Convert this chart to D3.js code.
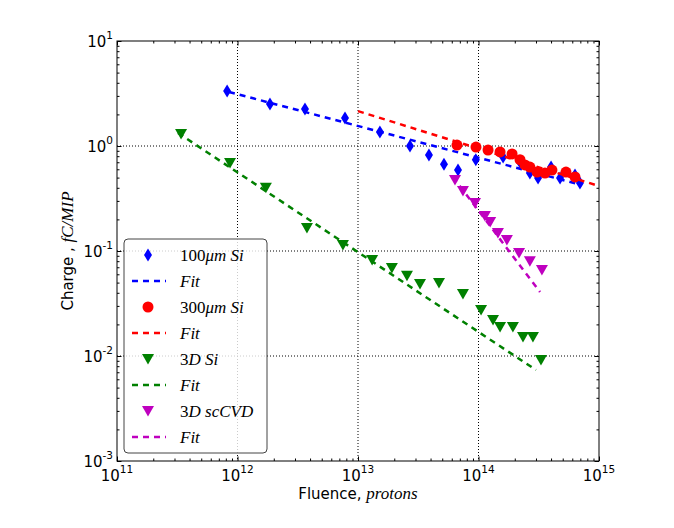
<!DOCTYPE html>
<html>
<head>
<meta charset="utf-8">
<script src="https://cdn.jsdelivr.net/npm/d3@7"></script>
<style>
  body { margin: 0; background: #fff; }
</style>
</head>
<body>
<svg id="chart" width="674" height="528"></svg>
<script>
// 100um Si
const si100Fluence = [8.2e11, 1.86e12, 3.63e12, 7.8e12, 1.52e13, 2.70e13, 3.88e13, 5.17e13, 6.76e13, 9.5e13,
    1.6e14, 2.21e14, 2.67e14, 3.12e14, 4.0e14, 4.75e14, 6.32e14, 6.95e14];
const si100Charge = [3.34, 2.51, 2.25, 1.85, 1.36, 1.0, 0.82, 0.67, 0.59, 0.74,
    0.785, 0.70, 0.553, 0.496, 0.63, 0.496, 0.53, 0.445];
const si100FitFluence = [8.5e11, 7.2e14];
const si100FitCharge = [3.27, 0.425];

// 300um Si
const si300Fluence = [6.63e13, 9.53e13, 1.2e14, 1.51e14, 1.9e14, 2.21e14, 2.43e14, 2.67e14, 3.06e14, 3.56e14,
    4.07e14, 5.32e14, 6.32e14];
const si300Charge = [1.02, 0.978, 0.916, 0.877, 0.84, 0.74, 0.66, 0.63, 0.565, 0.553,
    0.59, 0.565, 0.507];
const si300FitFluence = [1e13, 1e15];
const si300FitCharge = [2.15, 0.416];

// 3D Si
const si3dFluence = [3.40e11, 8.67e11, 1.72e12, 3.77e12, 7.5e12, 1.31e13, 1.91e13, 2.55e13, 3.27e13, 4.70e13,
    7.43e13, 1.05e14, 1.32e14, 1.51e14, 1.93e14, 2.34e14, 2.83e14, 3.30e14];
const si3dCharge = [1.30, 0.69, 0.40, 0.166, 0.114, 0.082, 0.069, 0.058, 0.0485, 0.0496,
    0.039, 0.0274, 0.022, 0.0189, 0.0189, 0.0152, 0.0152, 0.00916];
const si3dFitFluence = [3.21e11, 3.0e14];
const si3dFitCharge = [1.33, 0.00736];

// 3D scCVD
const cvdFluence = [6.38e13, 7.43e13, 9.35e13, 1.13e14, 1.25e14, 1.45e14, 1.72e14, 2.17e14, 2.67e14, 3.36e14];
const cvdCharge = [0.474, 0.373, 0.286, 0.215, 0.189, 0.148, 0.127, 0.0957, 0.080, 0.066];
const cvdFitFluence = [6.14e13, 3.24e14];
const cvdFitCharge = [0.507, 0.0407];

const xMajor = [1e11, 1e12, 1e13, 1e14, 1e15];
const xExponents = ["11", "12", "13", "14", "15"];
const yMajor = [1e-3, 1e-2, 1e-1, 1e0, 1e1];
const yExponents = ["-3", "-2", "-1", "0", "1"];

const svg = d3.select("#chart");
const width = +svg.attr("width");
const height = +svg.attr("height");
const margin = {top: 41, right: 75, bottom: 67, left: 117};
const plotW = width - margin.left - margin.right;
const plotH = height - margin.top - margin.bottom;

const x = d3.scaleLog().domain([1e11, 1e15]).range([0, plotW]);
const y = d3.scaleLog().domain([1e-3, 1e1]).range([plotH, 0]);

const minorTicks = majors => {
    const out = [];
    majors.slice(0, -1).forEach(m => {
        for (let k = 2; k <= 9; k++) out.push(m * k);
    });
    return out;
};

const g = svg.append("g").attr("transform", `translate(${margin.left},${margin.top})`);

// grid
g.append("g").selectAll("line")
    .data(xMajor.slice(1, -1))
    .join("line")
        .attr("x1", d => x(d)).attr("x2", d => x(d))
        .attr("y1", 0).attr("y2", plotH)
        .attr("stroke", "#000").attr("stroke-width", 1)
        .attr("stroke-dasharray", "1,2");
g.append("g").selectAll("line")
    .data(yMajor.slice(1, -1))
    .join("line")
        .attr("x1", 0).attr("x2", plotW)
        .attr("y1", d => y(d)).attr("y2", d => y(d))
        .attr("stroke", "#000").attr("stroke-width", 1)
        .attr("stroke-dasharray", "1,2");

// axes with inward ticks on all four sides
const majorLen = 4.5, minorLen = 2.5;
const axes = [
    {gen: d3.axisBottom, scale: x, majors: xMajor, tr: `translate(0,${plotH})`},
    {gen: d3.axisTop, scale: x, majors: xMajor, tr: "translate(0,0)"},
    {gen: d3.axisLeft, scale: y, majors: yMajor, tr: "translate(0,0)"},
    {gen: d3.axisRight, scale: y, majors: yMajor, tr: `translate(${plotW},0)`}
];
axes.forEach(a => {
    g.append("g").attr("transform", a.tr)
        .call(a.gen(a.scale).tickValues(minorTicks(a.majors)).tickSize(-minorLen).tickFormat(""))
        .call(s => s.select(".domain").remove());
    g.append("g").attr("transform", a.tr)
        .call(a.gen(a.scale).tickValues(a.majors).tickSize(-majorLen).tickFormat(""))
        .call(s => s.select(".domain").remove());
});
g.selectAll(".tick line").attr("stroke", "#000");

// tick labels
const xLabels = g.append("g").selectAll("text")
    .data(xMajor)
    .join("text")
        .attr("x", d => x(d))
        .attr("y", plotH + 20)
        .attr("text-anchor", "middle")
        .attr("font-family", "DejaVu Sans")
        .attr("font-size", 15);
xLabels.append("tspan").text("10");
xLabels.append("tspan").attr("dy", -8).attr("font-size", 10.5).text((d, i) => xExponents[i]);

const yLabels = g.append("g").selectAll("text")
    .data(yMajor)
    .join("text")
        .attr("x", -4)
        .attr("y", d => y(d) + 5.5)
        .attr("text-anchor", "end")
        .attr("font-family", "DejaVu Sans")
        .attr("font-size", 15);
yLabels.append("tspan").text("10");
yLabels.append("tspan").attr("dy", -8).attr("font-size", 10.5).text((d, i) => yExponents[i]);

// frame
g.append("rect")
    .attr("width", plotW).attr("height", plotH)
    .attr("fill", "none").attr("stroke", "#000").attr("stroke-width", 1);

// axis titles
const xTitle = svg.append("text")
    .attr("x", margin.left + plotW / 2)
    .attr("y", 499)
    .attr("text-anchor", "middle")
    .attr("font-size", 15);
xTitle.append("tspan").attr("font-family", "DejaVu Sans").text("Fluence, ");
xTitle.append("tspan").attr("font-family", "Liberation Serif").attr("font-style", "italic")
    .attr("font-size", 17).text("protons");

const yTitle = svg.append("text")
    .attr("transform", `translate(73,${margin.top + plotH / 2}) rotate(-90)`)
    .attr("text-anchor", "middle")
    .attr("font-size", 15);
yTitle.append("tspan").attr("font-family", "DejaVu Sans").text("Charge , ");
yTitle.append("tspan").attr("font-family", "Liberation Serif").attr("font-style", "italic")
    .attr("font-size", 17).text("fC/MIP");

// markers
const thinDiamond = "M0,-6.5L4,0L0,6.5L-4,0Z";
const triDown = "M-6,-5L6,-5L0,5.5Z";

const series = [
    {fx: si100Fluence, fy: si100Charge, lx: si100FitFluence, ly: si100FitCharge, color: "#0000ff", marker: "diamond"},
    {fx: si300Fluence, fy: si300Charge, lx: si300FitFluence, ly: si300FitCharge, color: "#ff0000", marker: "circle"},
    {fx: si3dFluence, fy: si3dCharge, lx: si3dFitFluence, ly: si3dFitCharge, color: "#008000", marker: "tri"},
    {fx: cvdFluence, fy: cvdCharge, lx: cvdFitFluence, ly: cvdFitCharge, color: "#bf00bf", marker: "tri"}
];

const drawMarker = (sel, s) => {
    if (s.marker === "circle") {
        sel.append("circle").attr("r", 5.5).attr("fill", s.color);
    } else {
        sel.append("path").attr("d", s.marker === "diamond" ? thinDiamond : triDown).attr("fill", s.color);
    }
};

const line = d3.line().x(d => x(d[0])).y(d => y(d[1]));

series.forEach(s => {
    const pts = s.fx.map((v, i) => [v, s.fy[i]]);
    g.append("g").selectAll("g")
        .data(pts)
        .join("g")
            .attr("transform", d => `translate(${x(d[0])},${y(d[1])})`)
            .each(function() { drawMarker(d3.select(this), s); });
    g.append("path")
        .datum(s.lx.map((v, i) => [v, s.ly[i]]))
        .attr("d", line)
        .attr("fill", "none")
        .attr("stroke", s.color)
        .attr("stroke-width", 2.5)
        .attr("stroke-dasharray", "6,5");
});

// legend
const legend = svg.append("g").attr("transform", "translate(124,239)");
legend.append("rect")
    .attr("width", 143).attr("height", 214)
    .attr("rx", 4).attr("ry", 4)
    .attr("fill", "#fff").attr("fill-opacity", 0.8)
    .attr("stroke", "#444").attr("stroke-width", 1);

const legendLabels = [
    [["100", "normal"], ["μm Si", "italic"]],
    [["Fit", "italic"]],
    [["300", "normal"], ["μm Si", "italic"]],
    [["Fit", "italic"]],
    [["3", "normal"], ["D Si", "italic"]],
    [["Fit", "italic"]],
    [["3", "normal"], ["D scCVD", "italic"]],
    [["Fit", "italic"]]
];

legendLabels.forEach((parts, i) => {
    const s = series[Math.floor(i / 2)];
    const row = legend.append("g").attr("transform", `translate(0,${16 + i * 26})`);
    if (i % 2 === 0) {
        drawMarker(row.append("g").attr("transform", "translate(24,0)"), s);
    } else {
        row.append("line")
            .attr("x1", 8).attr("x2", 42)
            .attr("stroke", s.color).attr("stroke-width", 2.5)
            .attr("stroke-dasharray", "6,5");
    }
    const t = row.append("text")
        .attr("x", 56).attr("y", 5.5)
        .attr("font-family", "Liberation Serif")
        .attr("font-size", 17);
    parts.forEach(p => t.append("tspan").attr("font-style", p[1]).text(p[0]));
});
</script>
</body>
</html>
